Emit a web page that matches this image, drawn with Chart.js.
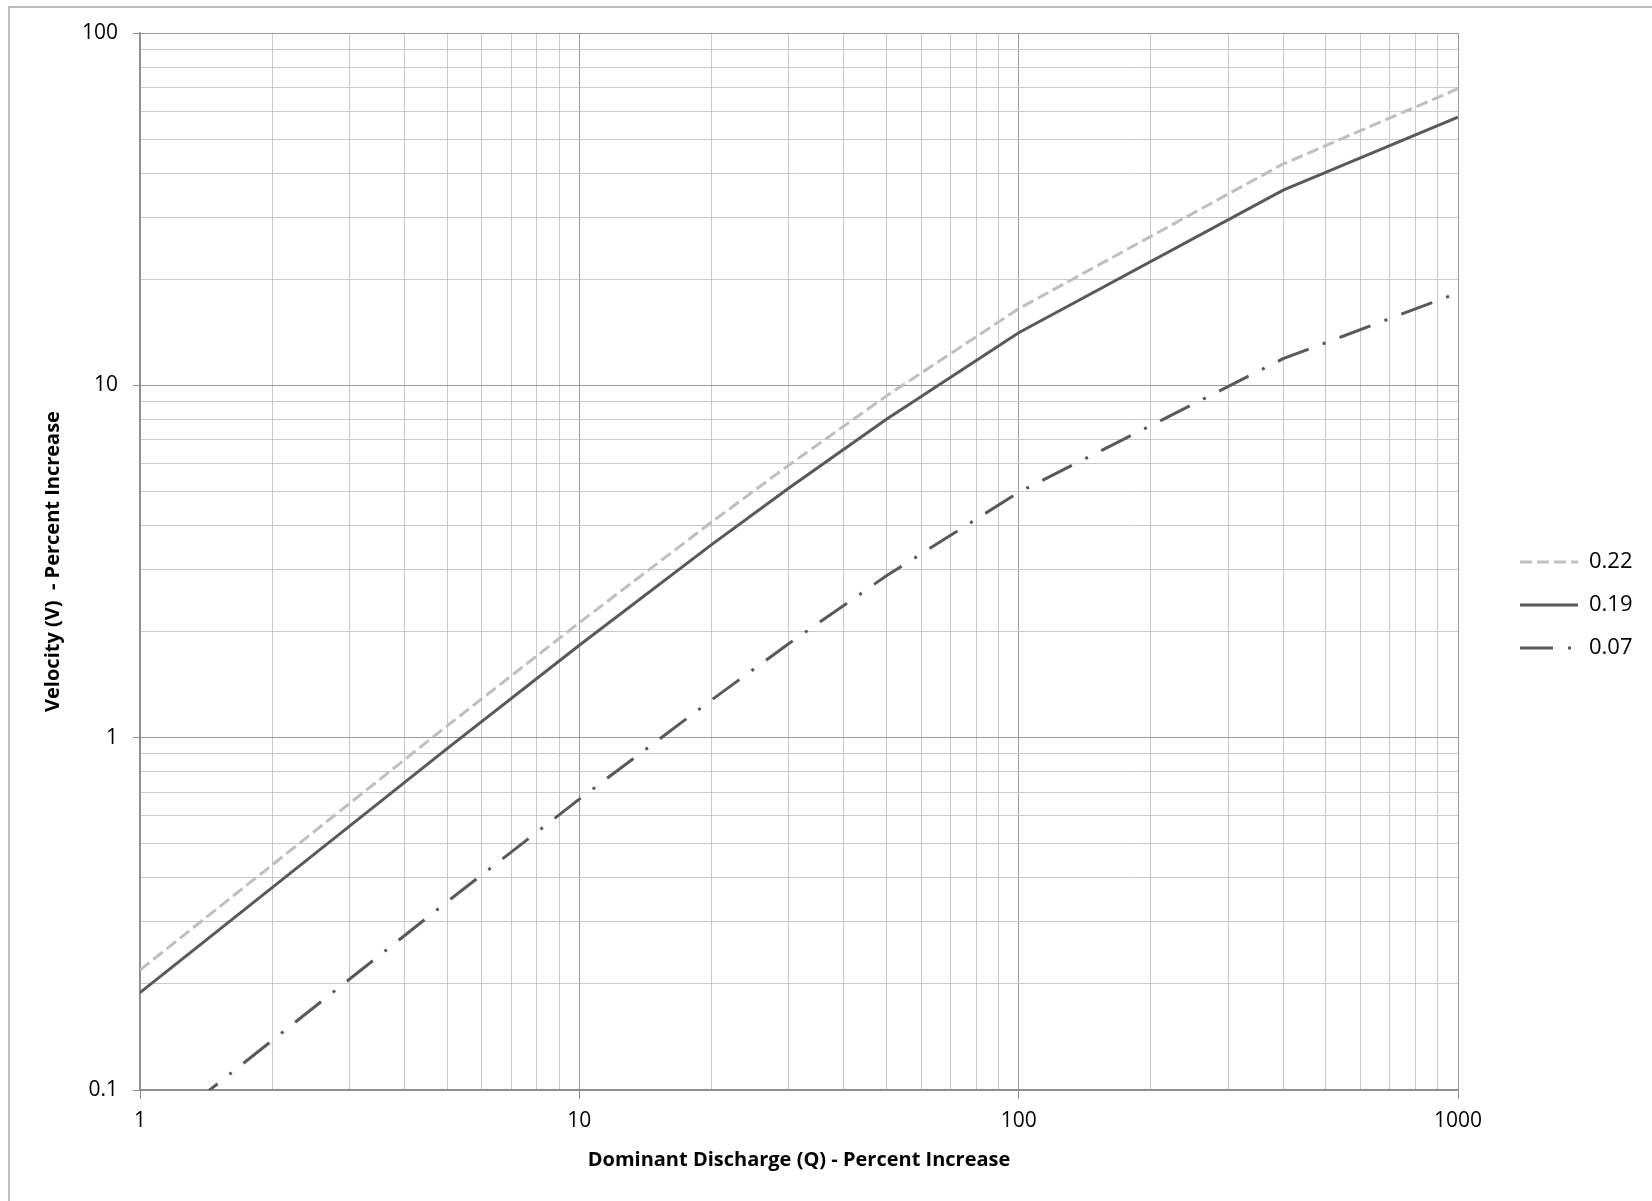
<!DOCTYPE html>
<html>
<head>
<meta charset="utf-8">
<title>Velocity vs Dominant Discharge</title>
<script src="https://cdn.jsdelivr.net/npm/chart.js@4.4.1/dist/chart.umd.min.js"></script>
<style>
  html, body { margin: 0; padding: 0; background: #fff; }
  canvas { display: block; }
</style>
</head>
<body>
<canvas id="chart" width="1652" height="1201"></canvas>
<script>
// Dominant discharge Q, percent increase (x positions the curves were read at)
const dischargeQ = [1, 5, 10, 20, 30, 50, 100, 400, 1000];

// Velocity V, percent increase - one list per curve
const velocity022 = [0.219, 1.08, 2.12, 4.09, 5.94, 9.33, 16.5, 42.5, 69.5];
const velocity019 = [0.189, 0.931, 1.83, 3.53, 5.11, 8.01, 14.1, 35.8, 57.7];
const velocity007 = [0.0697, 0.342, 0.669, 1.28, 1.85, 2.88, 4.97, 11.9, 18.3];

const seriesNames = ['0.22', '0.19', '0.07'];

// grid lines of the log-log paper
const xTickValues = [1, 2, 3, 4, 5, 6, 7, 8, 9, 10, 20, 30, 40, 50, 60, 70, 80, 90,
                     100, 200, 300, 400, 500, 600, 700, 800, 900, 1000];
const xMajorTicks = [1, 10, 100, 1000];
const xTickLabels = ['1', '10', '100', '1000'];

const yTickValues = [0.1, 0.2, 0.3, 0.4, 0.5, 0.6, 0.7, 0.8, 0.9, 1, 2, 3, 4, 5, 6, 7, 8, 9,
                     10, 20, 30, 40, 50, 60, 70, 80, 90, 100];
const yMajorTicks = [0.1, 1, 10, 100];
const yTickLabels = ['0.1', '1', '10', '100'];

// colours
const lightLine = '#bfbfbf';
const darkLine = '#595959';
const majorGrid = '#9a9a9a';
const minorGrid = '#c8c8c8';
const axisColor = '#8c8c8c';

Chart.defaults.font.family = "'Open Sans', 'DejaVu Sans', sans-serif";
Chart.defaults.color = '#000';

function toPoints(values) {
    return dischargeQ.map((q, i) => ({ x: q, y: values[i] }));
}

function tickLabel(value, majors, labels) {
    const idx = majors.indexOf(value);
    return idx >= 0 ? labels[idx] : '';
}

// legend samples should carry the same dash and width as the lines
function legendLabels(chart) {
    const items = Chart.defaults.plugins.legend.labels.generateLabels(chart);
    items.forEach(item => {
        const ds = chart.data.datasets[item.datasetIndex];
        item.lineDash = ds.borderDash || [];
        item.lineWidth = ds.borderWidth;
        item.strokeStyle = ds.borderColor;
        item.fillStyle = ds.borderColor;
        item.lineCap = 'butt';
    });
    return items;
}

// white background + thin frame round the whole chart
const frame = {
    id: 'frame',
    beforeDraw(chart) {
        const ctx = chart.ctx;
        ctx.save();
        ctx.fillStyle = '#fff';
        ctx.fillRect(0, 0, chart.width, chart.height);
        ctx.strokeStyle = '#a6a6a6';
        ctx.lineWidth = 1.5;
        ctx.strokeRect(9, 7, chart.width + 20, chart.height + 20);
        ctx.restore();
    }
};

const ctx = document.getElementById('chart').getContext('2d');
new Chart(ctx, {
    type: 'line',
    data: {
        datasets: [
            {
                label: seriesNames[0],
                data: toPoints(velocity022),
                borderColor: lightLine,
                backgroundColor: lightLine,
                borderWidth: 3,
                borderDash: [12, 5],
                pointRadius: 0,
                tension: 0
            },
            {
                label: seriesNames[1],
                data: toPoints(velocity019),
                borderColor: darkLine,
                backgroundColor: darkLine,
                borderWidth: 3,
                pointRadius: 0,
                tension: 0
            },
            {
                label: seriesNames[2],
                data: toPoints(velocity007),
                borderColor: darkLine,
                backgroundColor: darkLine,
                borderWidth: 3,
                borderDash: [33, 15, 3, 15],
                pointRadius: 0,
                tension: 0
            }
        ]
    },
    options: {
        responsive: false,
        animation: false,
        events: [],
        layout: { padding: { left: 0, top: 33, right: 13, bottom: 24 } },
        plugins: {
            tooltip: { enabled: false },
            legend: {
                position: 'right',
                align: 'center',
                maxWidth: 140,
                labels: {
                    usePointStyle: true,
                    pointStyle: 'line',
                    pointStyleWidth: 58,
                    padding: 21,
                    font: { size: 22 },
                    color: '#000',
                    generateLabels: legendLabels
                }
            }
        },
        scales: {
            x: {
                type: 'logarithmic',
                position: 'bottom',
                min: 1,
                max: 1000,
                afterBuildTicks: s => { s.ticks = xTickValues.map(v => ({ value: v, major: xMajorTicks.includes(v) })); },
                afterFit: s => { s.height = 87; },
                ticks: {
                    autoSkip: false,
                    maxRotation: 0,
                    minRotation: 0,
                    padding: 9,
                    font: { size: 21 },
                    color: '#000',
                    callback: v => tickLabel(v, xMajorTicks, xTickLabels)
                },
                grid: {
                    color: c => (c.tick && c.tick.major) ? majorGrid : minorGrid,
                    lineWidth: 1,
                    tickLength: 9,
                    tickColor: c => (c.tick && c.tick.major) ? axisColor : 'rgba(0,0,0,0)'
                },
                border: { color: axisColor, width: 1.5 },
                title: {
                    display: true,
                    text: 'Dominant Discharge (Q) - Percent Increase',
                    font: { size: 20, weight: 'bold' },
                    color: '#000',
                    padding: { top: 0, bottom: 5 }
                }
            },
            y: {
                type: 'logarithmic',
                position: 'left',
                min: 0.1,
                max: 100,
                afterBuildTicks: s => { s.ticks = yTickValues.map(v => ({ value: v, major: yMajorTicks.includes(v) })); },
                afterFit: s => { s.width = 140; },
                ticks: {
                    autoSkip: false,
                    padding: 15,
                    font: { size: 21 },
                    color: '#000',
                    callback: v => tickLabel(v, yMajorTicks, yTickLabels)
                },
                grid: {
                    color: c => (c.tick && c.tick.major) ? majorGrid : minorGrid,
                    lineWidth: 1,
                    tickLength: 7,
                    tickColor: c => (c.tick && c.tick.major) ? axisColor : 'rgba(0,0,0,0)'
                },
                border: { color: axisColor, width: 1.5 },
                title: {
                    display: true,
                    text: 'Velocity (V)  - Percent Increase',
                    font: { size: 20, weight: 'bold' },
                    color: '#000',
                    padding: { top: 41, bottom: 0 }
                }
            },
            // empty strip between the plot and the legend
            gap: {
                type: 'linear',
                position: 'right',
                display: true,
                grid: { display: false },
                border: { display: false },
                ticks: { display: false },
                afterFit: s => { s.width = 41; }
            }
        }
    },
    plugins: [frame]
});
</script>
</body>
</html>
